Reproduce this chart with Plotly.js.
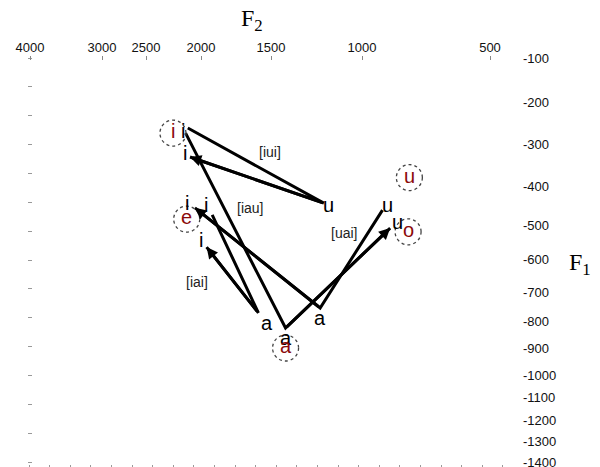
<!DOCTYPE html>
<html><head><meta charset="utf-8">
<script src="https://cdn.plot.ly/plotly-3.0.1.min.js"></script>
<style>html,body{margin:0;padding:0;background:#fff}#chart{width:600px;height:467px}</style>
</head><body><div id="chart"></div>
<script>
// ---- axis ticks ----
const f2TickValues = [4000, 3000, 2500, 2000, 1500, 1000, 500];
const f2TickLabels = ['4000', '3000', '2500', '2000', '1500', '1000', '500'];
const f1TickValues = [100, 200, 300, 400, 500, 600, 700, 800, 900, 1000, 1100, 1200, 1300, 1400];
const f1TickLabels = ['-100', '-200', '-300', '-400', '-500', '-600', '-700', '-800', '-900', '-1000', '-1100', '-1200', '-1300', '-1400'];

// ---- nonlinear scale of the axes (position of each tick on the axis) ----
const f2Scale = [30, 102, 146, 201, 271, 362, 490];
const f1Scale = [58, 102, 144, 186, 225, 259, 292, 321, 348, 375, 397, 420, 441, 462];

// ---- trajectories (F2 Hz, F1 Hz, vowel at each point) ----
const trajNames = ['[iui]', '[iau]', '[uai]', '[iai]'];
const iuiF2 = [2120, 1210, 2100];
const iuiF1 = [262, 444, 331];
const iuiVowels = ['i', 'u', 'i'];
const iauF2 = [2140, 1420, 890];
const iauF1 = [274, 826, 509];
const iauVowels = ['', 'a', 'u'];
const uaiF2 = [920, 1230, 2055];
const uaiF1 = [462, 755, 456];
const uaiVowels = ['u', 'a', 'i'];
const iaiF2 = [1920, 1590, 1960];
const iaiF1 = [474, 772, 565];
const iaiVowels = ['i', 'a', 'i'];

// trajectory label anchors (Hz)
const trajLabelF2 = [1510, 1650, 1100, 2040];
const trajLabelF1 = [319, 456, 524, 670];

// ---- reference (cardinal) vowels ----
const refVowels = ['i', 'e', 'a', 'u', 'o'];
const refF2 = [2255, 2130, 1420, 815, 820];
const refF1 = [274, 485, 900, 380, 520];

// ---- styles ----
const letterShift = {
  iui: [[-5, -3], [5, -2], [-5, 4]],
  iau: [[0, 0], [0, -10], [7, 6]],
  uai: [[5, 5], [0, -10], [-8, 5]],
  iai: [[-6, 10], [9, -10], [-6, 7]]
};

function interp(v, xs, ys) {
  const n = xs.length;
  for (let i = 0; i < n - 1; i++) {
    const a = xs[i], b = xs[i + 1];
    if ((v - a) * (v - b) <= 0) return ys[i] + (v - a) / (b - a) * (ys[i + 1] - ys[i]);
  }
  const i = ((v - xs[0]) * (xs[1] - xs[0]) < 0) ? 0 : n - 2;
  return ys[i] + (v - xs[i]) / (xs[i + 1] - xs[i]) * (ys[i + 1] - ys[i]);
}
const pF2 = f => interp(f, f2TickValues, f2Scale);
const pF1 = f => interp(f, f1TickValues, f1Scale);

const X0 = 28, X1 = 522, Y0 = 56, Y1 = 464;
const sans = 'Liberation Sans, Arial, sans-serif';
const serif = 'Liberation Serif, Times New Roman, serif';

const trajs = [
  {key: 'iui', f2: iuiF2, f1: iuiF1, v: iuiVowels},
  {key: 'iau', f2: iauF2, f1: iauF1, v: iauVowels},
  {key: 'uai', f2: uaiF2, f1: uaiF1, v: uaiVowels},
  {key: 'iai', f2: iaiF2, f1: iaiF1, v: iaiVowels}
];

const data = [];
const annotations = [];
const shapes = [];

trajs.forEach((t, k) => {
  const xs = t.f2.map(pF2), ys = t.f1.map(pF1);
  data.push({type: 'scatter', mode: 'lines', x: xs, y: ys, name: trajNames[k],
    line: {color: '#000', width: 3}, hoverinfo: 'skip', showlegend: false});
  const n = xs.length;
  annotations.push({x: xs[n - 1], y: ys[n - 1], ax: xs[n - 2], ay: ys[n - 2],
    xref: 'x', yref: 'y', axref: 'x', ayref: 'y', text: '', showarrow: true,
    arrowhead: 2, arrowsize: 0.75, arrowwidth: 3, arrowcolor: '#000', standoff: 0});
  t.v.forEach((ch, i) => {
    if (!ch) return;
    annotations.push({x: xs[i], y: ys[i], xref: 'x', yref: 'y', text: ch, showarrow: false,
      xshift: letterShift[t.key][i][0], yshift: letterShift[t.key][i][1],
      font: {family: sans, size: 20, color: '#000'}});
  });
  annotations.push({x: pF2(trajLabelF2[k]), y: pF1(trajLabelF1[k]), xref: 'x', yref: 'y',
    text: trajNames[k], showarrow: false, font: {family: sans, size: 14, color: '#222'}});
});

refVowels.forEach((ch, i) => {
  const x = pF2(refF2[i]), y = pF1(refF1[i]);
  shapes.push({type: 'circle', xref: 'x', yref: 'y', xsizemode: 'pixel', ysizemode: 'pixel',
    xanchor: x, yanchor: y, x0: -13, x1: 13, y0: -13, y1: 13,
    line: {color: '#444', width: 1.3, dash: 'dot'}});
  annotations.push({x: x, y: y, xref: 'x', yref: 'y', text: ch, showarrow: false, yshift: 2,
    font: {family: sans, size: 20, color: '#8b0a0a'}});
});

// axis titles
annotations.push({xref: 'paper', yref: 'paper', xanchor: 'center', yanchor: 'middle',
  x: (252 - X0) / (X1 - X0), y: (Y1 - 20) / (Y1 - Y0),
  text: 'F<sub>2</sub>', showarrow: false, font: {family: serif, size: 24, color: '#000'}});
annotations.push({xref: 'paper', yref: 'paper', xanchor: 'center', yanchor: 'middle',
  x: (580 - X0) / (X1 - X0), y: (Y1 - 264) / (Y1 - Y0),
  text: 'F<sub>1</sub>', showarrow: false, font: {family: serif, size: 24, color: '#000'}});

data.push({type: 'scatter', mode: 'markers', x: [], y: [], xaxis: 'x2', yaxis: 'y2', showlegend: false});

const layout = {
  width: 600, height: 467,
  margin: {l: X0, r: 600 - X1, t: Y0, b: 467 - Y1, pad: 0},
  paper_bgcolor: '#fff', plot_bgcolor: '#fff',
  showlegend: false,
  xaxis: {range: [X0, X1], showgrid: false, zeroline: false, showline: false,
    tickmode: 'linear', tick0: 29, dtick: 20.6, ticks: 'outside', ticklen: 4, tickcolor: '#999',
    showticklabels: false, fixedrange: true},
  yaxis: {range: [Y1, Y0], showgrid: false, zeroline: false, showline: false,
    tickmode: 'linear', tick0: 58, dtick: 28.857, ticks: 'inside', ticklen: 4, tickcolor: '#999',
    showticklabels: false, fixedrange: true},
  xaxis2: {overlaying: 'x', side: 'top', anchor: 'y2', range: [X0, X1], showgrid: false, zeroline: false,
    showline: false, tickmode: 'array', tickvals: f2TickValues.map(pF2), ticktext: f2TickLabels,
    ticks: 'inside', ticklen: 4, tickcolor: '#888', tickfont: {family: sans, size: 13, color: '#111'},
    ticklabeloverflow: 'allow', fixedrange: true},
  yaxis2: {overlaying: 'y', side: 'right', anchor: 'x2', range: [Y1, Y0], showgrid: false, zeroline: false,
    showline: false, tickmode: 'array', tickvals: f1TickValues.map(pF1), ticktext: f1TickLabels,
    ticks: '', tickfont: {family: sans, size: 13, color: '#111'}, ticklabeloverflow: 'allow',
    fixedrange: true},
  annotations: annotations,
  shapes: shapes
};

Plotly.newPlot('chart', data, layout, {displayModeBar: false, staticPlot: true});
</script>
</body></html>
